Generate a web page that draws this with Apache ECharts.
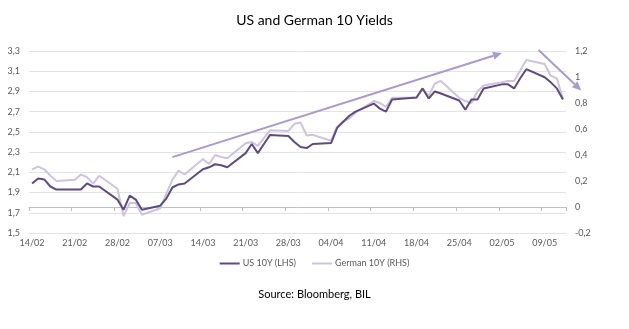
<!DOCTYPE html>
<html>
<head>
<meta charset="utf-8">
<script src="https://cdn.jsdelivr.net/npm/echarts@6/dist/echarts.min.js"></script>
<style>
  html, body { margin: 0; padding: 0; background: #ffffff; }
  #chart { width: 629px; height: 329px; }
</style>
</head>
<body>
<div id="chart"></div>
<script>
// Daily calendar from 14/02 to 12/05; weekends and holidays are null.
const dates = [
  '14/02','15/02','16/02','17/02','18/02','19/02','20/02',
  '21/02','22/02','23/02','24/02','25/02','26/02','27/02',
  '28/02','01/03','02/03','03/03','04/03','05/03','06/03',
  '07/03','08/03','09/03','10/03','11/03','12/03','13/03',
  '14/03','15/03','16/03','17/03','18/03','19/03','20/03',
  '21/03','22/03','23/03','24/03','25/03','26/03','27/03',
  '28/03','29/03','30/03','31/03','01/04','02/04','03/04',
  '04/04','05/04','06/04','07/04','08/04','09/04','10/04',
  '11/04','12/04','13/04','14/04','15/04','16/04','17/04',
  '18/04','19/04','20/04','21/04','22/04','23/04','24/04',
  '25/04','26/04','27/04','28/04','29/04','30/04','01/05',
  '02/05','03/05','04/05','05/05','06/05','07/05','08/05',
  '09/05','10/05','11/05','12/05'
];

// US 10Y yield, %
const usYield = [
  1.99, 2.04, 2.03, 1.96, 1.93, null, null,
  null, 1.93, 1.99, 1.96, 1.96, null, null,
  1.83, 1.73, 1.87, 1.83, 1.73, null, null,
  1.77, 1.84, 1.95, 1.98, 1.99, null, null,
  2.13, 2.15, 2.18, 2.17, 2.15, null, null,
  2.29, 2.38, 2.29, 2.38, 2.47, null, null,
  2.46, 2.40, 2.35, 2.34, 2.38, null, null,
  2.39, 2.54, 2.60, 2.66, 2.70, null, null,
  2.78, 2.73, 2.70, 2.82, null, null, null,
  2.84, 2.93, 2.83, 2.90, 2.88, null, null,
  2.81, 2.72, 2.82, 2.82, 2.93, null, null,
  2.97, 2.97, 2.93, 3.03, 3.12, null, null,
  3.04, 2.99, 2.93, 2.82
];

// German 10Y yield, %
const deYield = [
  0.29, 0.31, 0.29, 0.24, 0.20, null, null,
  0.21, 0.25, 0.23, 0.18, 0.24, null, null,
  0.14, -0.07, 0.03, 0.03, -0.06, null, null,
  -0.01, 0.10, 0.21, 0.28, 0.25, null, null,
  0.37, 0.33, 0.40, 0.385, 0.375, null, null,
  0.49, 0.50, 0.47, 0.53, 0.59, null, null,
  0.585, 0.64, 0.65, 0.55, 0.555, null, null,
  0.51, 0.62, 0.66, 0.68, 0.725, null, null,
  0.815, 0.80, 0.77, 0.84, null, null, null,
  0.84, 0.91, 0.855, 0.95, 0.97, null, null,
  0.84, 0.815, 0.80, 0.89, 0.935, null, null,
  0.96, 0.97, 0.97, 1.05, 1.13, null, null,
  1.10, 1.01, 0.99, 0.83
];

const seriesNames = ['US 10Y (LHS)', 'German 10Y (RHS)'];

const FONT = 'Lato';
const usColor = '#5e4b80';
const deColor = '#cdc4de';
const arrowColor = '#a99bcc';

const fmt = v => String(Math.round(v * 10) / 10).replace('.', ',');

const chart = echarts.init(document.getElementById('chart'), null, { renderer: 'canvas' });

chart.setOption({
  animation: false,
  backgroundColor: '#ffffff',
  textStyle: { fontFamily: FONT },
  title: [
    {
      text: 'US and German 10 Yields',
      left: 'center',
      top: 8,
      textStyle: { fontFamily: FONT, fontSize: 14, fontWeight: 'normal', color: '#000000' }
    },
    {
      text: 'Source: Bloomberg, BIL',
      left: 'center',
      top: 284,
      textStyle: { fontFamily: FONT, fontSize: 11, fontWeight: 'normal', color: '#000000' }
    }
  ],
  legend: {
    data: seriesNames,
    bottom: 56,
    left: 'center',
    icon: 'rect',
    itemWidth: 20,
    itemHeight: 2,
    itemGap: 16,
    textStyle: { fontFamily: FONT, fontSize: 9, color: '#595959', padding: [0, 0, 0, -2] }
  },
  grid: { left: 29, right: 63, top: 51, bottom: 96, containLabel: false },
  xAxis: {
    type: 'category',
    data: dates,
    boundaryGap: true,
    axisLine: { show: true, lineStyle: { color: '#bfbfbf', width: 1 } },
    axisTick: { show: true, interval: 6, length: 4, lineStyle: { color: '#bfbfbf' } },
    axisLabel: { interval: 6, fontFamily: FONT, fontSize: 9, color: '#595959', margin: 6 },
    splitLine: { show: false }
  },
  yAxis: [
    {
      type: 'value',
      min: 1.5,
      max: 3.3,
      interval: 0.2,
      axisLine: { show: false },
      axisTick: { show: false },
      axisLabel: { formatter: fmt, fontFamily: FONT, fontSize: 9, color: '#595959', margin: 9 },
      splitLine: { show: true, lineStyle: { color: '#e3e3e3', width: 1 } }
    },
    {
      type: 'value',
      min: -0.2,
      max: 1.2,
      interval: 0.2,
      position: 'right',
      axisLine: { show: false },
      axisTick: { show: false },
      axisLabel: { formatter: fmt, fontFamily: FONT, fontSize: 9, color: '#595959', margin: 9 },
      splitLine: { show: false }
    }
  ],
  series: [
    {
      name: seriesNames[0],
      type: 'line',
      yAxisIndex: 0,
      data: usYield,
      connectNulls: true,
      showSymbol: false,
      symbol: 'none',
      z: 3,
      lineStyle: { color: usColor, width: 2 },
      itemStyle: { color: usColor }
    },
    {
      name: seriesNames[1],
      type: 'line',
      yAxisIndex: 1,
      data: deYield,
      connectNulls: true,
      showSymbol: false,
      symbol: 'none',
      z: 2,
      lineStyle: { color: deColor, width: 2 },
      itemStyle: { color: deColor }
    }
  ]
});

// Trend arrows, positioned in the (day index, US yield) space of the chart.
const trendArrows = [
  { from: [22.6, 2.25], to: [77.2, 3.28] },
  { from: [83.0, 3.31], to: [89.5, 2.91] }
];

function arrowGraphics() {
  const out = [];
  trendArrows.forEach(a => {
    const p0 = chart.convertToPixel({ gridIndex: 0 }, a.from);
    const p1 = chart.convertToPixel({ gridIndex: 0 }, a.to);
    const dx = p1[0] - p0[0], dy = p1[1] - p0[1];
    const len = Math.sqrt(dx * dx + dy * dy);
    const ux = dx / len, uy = dy / len;
    const headL = 9, headW = 4;
    const bx = p1[0] - ux * headL, by = p1[1] - uy * headL;
    out.push({
      type: 'line',
      silent: true,
      z: 10,
      shape: { x1: p0[0], y1: p0[1], x2: bx, y2: by },
      style: { stroke: arrowColor, lineWidth: 2 }
    });
    out.push({
      type: 'polygon',
      silent: true,
      z: 10,
      shape: {
        points: [
          [p1[0], p1[1]],
          [bx - uy * headW, by + ux * headW],
          [bx + uy * headW, by - ux * headW]
        ]
      },
      style: { fill: arrowColor }
    });
  });
  return out;
}

chart.setOption({ graphic: arrowGraphics() });
</script>
</body>
</html>
